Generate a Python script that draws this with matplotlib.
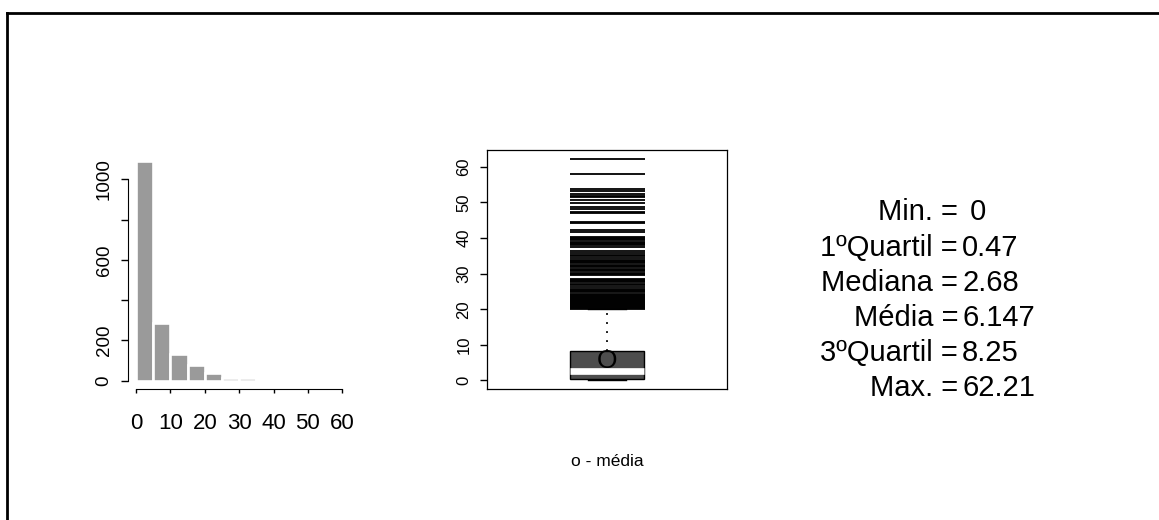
import matplotlib
matplotlib.use("Agg")
import matplotlib.pyplot as plt
from matplotlib.lines import Line2D
import numpy as np

plt.rcParams["font.family"] = ["Liberation Sans", "DejaVu Sans"]

# histograma (classes de largura 5)
bin_edges = [0, 5, 10, 15, 20, 25, 30, 35, 40, 45, 50, 55, 60]
bin_counts = [1092, 286, 134, 76, 38, 15, 14, 6, 0, 2, 2, 1]
hist_yticks = [0, 200, 400, 600, 800, 1000]
hist_ylabels = ["0", "200", "", "600", "", "1000"]
hist_xticks = [0, 10, 20, 30, 40, 50, 60]

# resumo
stat_names = ["Min. =", "1ºQuartil =", "Mediana =", "Média =", "3ºQuartil =", "Max. ="]
stat_values = [" 0", "0.47", "2.68", "6.147", "8.25", "62.21"]
q_min, q1, mediana, media, q3, q_max = 0.0, 0.47, 2.68, 6.147, 8.25, 62.21
whisker_hi = 19.92

# valores atipicos acima do bigode
outliers = [62.21, 58.1, 53.7, 53.3, 52.4, 51.8, 51.5, 50.6, 49.7, 48.6, 48.0,
            47.4, 46.9, 44.6, 44.2, 42.1, 41.7, 40.3, 40.0, 39.7, 39.4, 39.0,
            38.6, 38.3, 37.9, 37.6, 36.4, 35.9, 35.2, 34.8, 34.4, 33.9, 33.6,
            33.2, 32.9, 32.5, 32.2, 31.8, 31.4, 31.1, 30.7, 30.3, 29.9, 29.5,
            28.6, 28.2, 27.8, 27.5, 27.1, 26.7, 26.3, 25.6, 25.3, 25.0, 24.7,
            24.4, 24.1, 23.8, 23.5, 23.2, 22.9, 22.6, 22.3, 22.0, 21.7, 21.4,
            21.1, 20.8, 20.5, 20.2, 19.95]

W, H = 1159, 520
fig = plt.figure(figsize=(W / 100, H / 100), dpi=100)


def px_rect(x0, y0, x1, y1):
    return [x0 / W, 1 - y1 / H, (x1 - x0) / W, (y1 - y0) / H]


# moldura (so esquerda e topo)
fig.add_artist(Line2D([7.3 / W, 7.3 / W], [0, 1 - 12.7 / H], color="black", lw=2.0, transform=fig.transFigure))
fig.add_artist(Line2D([7.3 / W, 1], [1 - 12.7 / H, 1 - 12.7 / H], color="black", lw=2.0, transform=fig.transFigure))

# --- histograma
ax1 = fig.add_axes(px_rect(136, 160.8, 342.3, 380.7))
ax1.bar(bin_edges[:-1], bin_counts, width=5, align="edge", color="#9a9a9a",
        edgecolor="white", linewidth=1.9)
ax1.set_xlim(0, 60)
ax1.set_ylim(0, 1092)
for s in ["top", "right"]:
    ax1.spines[s].set_visible(False)
ax1.spines["left"].set_position(("outward", 5.8))
ax1.spines["bottom"].set_position(("outward", 6.2))
ax1.spines["left"].set_bounds(0, 1000)
ax1.spines["bottom"].set_bounds(0, 60)
ax1.set_yticks(hist_yticks)
ax1.set_yticklabels(hist_ylabels, rotation=90, va="center", fontsize=13.5)
ax1.set_xticks(hist_xticks)
ax1.set_xticklabels([str(v) for v in hist_xticks], fontsize=16)
ax1.tick_params(axis="y", length=5, width=1, pad=6)
ax1.tick_params(axis="x", length=3.2, width=1, pad=14)

# --- boxplot
ax2 = fig.add_axes(px_rect(486.7, 150, 727.3, 389.3))
stats = [{"med": mediana, "q1": q1, "q3": q3, "whislo": q_min,
          "whishi": whisker_hi, "fliers": outliers, "mean": media}]
ax2.bxp(stats, positions=[1], widths=0.31, patch_artist=True, showmeans=False,
        boxprops=dict(facecolor="#4d4d4d", edgecolor="black", linewidth=1),
        medianprops=dict(color="white", linewidth=4.8, solid_capstyle="butt"),
        whiskerprops=dict(color="black", linestyle=(0, (1, 4)), linewidth=1.3),
        capprops=dict(color="black", linewidth=1),
        flierprops=dict(marker="_", markersize=54, markeredgewidth=1.3,
                        markeredgecolor="black"))
ax2.text(1, media - 0.6, "O", ha="center", va="center", fontsize=19)
ax2.set_xlim(0.5, 1.5)
ax2.set_ylim(-2.49, 64.7)
ax2.set_xticks([])
ax2.set_yticks(range(0, 61, 10))
ax2.set_yticklabels([str(v) for v in range(0, 61, 10)], rotation=90, va="center", fontsize=12)
ax2.tick_params(axis="y", length=5, width=1, pad=6)
for s in ax2.spines.values():
    s.set_linewidth(0.9)
fig.text(607 / W, 1 - 462 / H, "o - média", ha="center", va="center", fontsize=12.5)

# --- resumo em texto
for i, (nome, val) in enumerate(zip(stat_names, stat_values)):
    yb = 1 - (220.4 + 35.2 * i) / H
    fig.text(958 / W, yb, nome, ha="right", va="baseline", fontsize=21)
    fig.text(962 / W, yb, val, ha="left", va="baseline", fontsize=21)

fig.savefig("out.png", dpi=100)
